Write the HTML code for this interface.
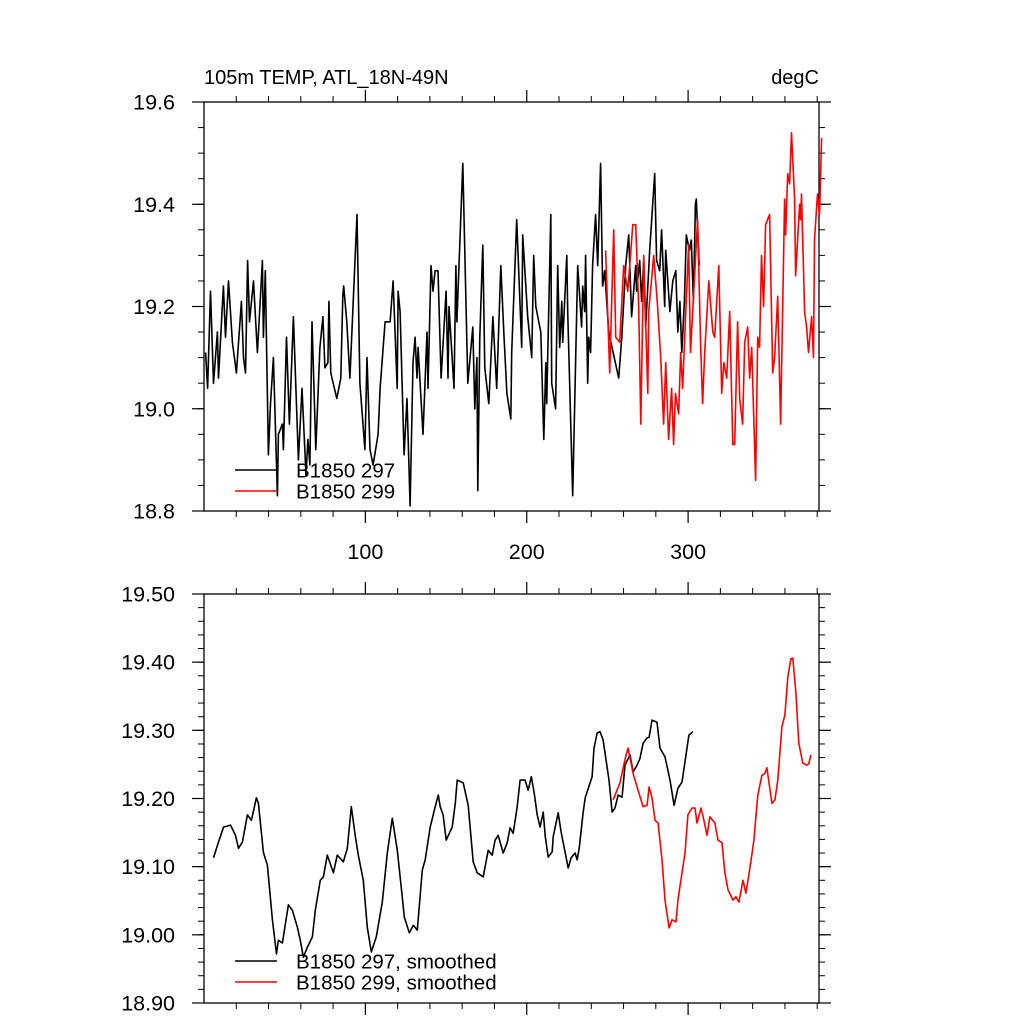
<!DOCTYPE html>
<html><head><meta charset="utf-8"><style>
html,body{margin:0;padding:0;background:#fff;}
svg{display:block;font-family:"Liberation Sans",sans-serif;}
</style></head><body>
<svg id="chart" width="1024" height="1024" viewBox="0 0 1024 1024" xmlns="http://www.w3.org/2000/svg">
<text x="204" y="84" font-size="20">105m TEMP, ATL_18N-49N</text>
<text x="819" y="84" font-size="20" text-anchor="end">degC</text>
<g id="top"></g>
<g id="bot"></g>
</svg>
<script>
// ---- data ----
const xTicks=[100,200,300];
const topYTicks=[18.8,19.0,19.2,19.4,19.6];
const botYTicks=[18.9,19.0,19.1,19.2,19.3,19.4,19.5];
const topYLabels=["18.8","19.0","19.2","19.4","19.6"];
const botYLabels=["18.90","19.00","19.10","19.20","19.30","19.40","19.50"];
const b297Years=[1,2.2,4,5.9,8.3,9,12,13.3,15.2,17.6,20.1,23.2,24.5,25.7,27,28.2,30.7,33.1,36.2,36.8,38,39.9,41.2,43,45.5,46.1,48.6,49.2,51.1,52.9,55.4,58.5,60.7,63.2,64.4,65.6,66.9,69.3,71.8,73.7,74.9,76.8,77.4,78.6,82.3,84.8,86,86.6,88.5,90.4,94.8,96.6,99.7,101,102.9,104.8,107.9,109.1,112.2,115.3,117.2,119.7,120.3,121.5,124,125.8,127.7,129.5,130.8,132,132.7,135.7,138.2,138.8,140.7,141.9,143.2,145,146.9,150,151.2,151.8,154.9,156.1,156.7,160.4,163.5,166.6,167.8,169.1,169.7,170.9,172.8,174,176.5,179,181.4,183.9,185.8,187.7,190.1,190.7,193.8,196.9,197.5,200.6,203.1,204.3,205.6,208.7,210.6,211.8,212.4,214.9,215.5,217.9,219.2,220.4,221.7,222.3,224.8,225.4,228.5,231.6,234,234.7,235.9,236.5,237.8,238.4,239.6,240.8,242.7,244,245.8,247,248.3,250.8,257,258.9,261.3,263.2,265,267.5,268.1,270,271.2,272.5,273.7,276.2,279.3,280.5,282.4,283.6,285.5,286.1,288.7,290.5,292.4,293.6,294.9,296.1,297.7,298.9,300.8,302,303.3,304.5,305.1,306.9];
const b297Values=[19.11,19.04,19.23,19.05,19.15,19.06,19.24,19.14,19.25,19.13,19.07,19.21,19.10,19.07,19.29,19.17,19.25,19.11,19.29,19.14,19.27,18.91,19.01,19.10,18.83,18.95,18.97,18.92,19.14,18.97,19.18,18.90,19.04,18.87,18.94,18.89,19.17,18.92,19.12,19.18,19.08,19.09,19.21,19.07,19.02,19.06,19.22,19.24,19.17,19.06,19.38,19.05,18.92,19.10,18.92,18.89,18.95,19.04,19.17,19.17,19.25,19.04,19.23,19.19,18.91,19.02,18.81,19.09,19.14,19.06,19.12,18.95,19.15,19.04,19.28,19.23,19.27,19.27,19.06,19.23,19.06,19.20,19.04,19.28,19.17,19.48,19.05,19.16,19.00,19.10,18.84,19.14,19.32,19.08,19.01,19.18,19.04,19.28,19.15,19.03,18.98,19.11,19.37,19.12,19.34,19.18,19.10,19.30,19.20,19.15,18.94,19.09,19.01,19.38,19.05,19.00,19.28,19.12,19.21,19.13,19.30,19.19,18.83,19.28,19.16,19.24,19.19,19.30,19.05,19.14,19.11,19.28,19.38,19.28,19.48,19.24,19.27,19.15,19.06,19.14,19.28,19.34,19.18,19.28,19.23,19.29,19.21,19.29,19.16,19.31,19.46,19.29,19.27,19.35,19.20,19.31,19.19,19.25,19.27,19.15,19.21,19.11,19.21,19.34,19.31,19.33,19.21,19.40,19.41,19.28];
const b299Years=[248.9,251.4,253.9,255.1,257.6,260.1,262.6,265.7,267.5,269.4,270.7,272.5,275,275.6,278.7,281.1,283,284.8,286.1,287.9,289.8,291,292.2,294.1,295.4,296.6,300.3,301.5,305.9,307.8,309,310.3,312.8,315.3,316.5,319,320.8,322.1,323.9,325.8,327.7,328.9,330.7,332,333.8,335.1,336.9,338.1,339.4,341.8,343.1,344.3,345.5,346.8,348,350.5,352.4,353.6,355.5,357.3,359.8,360.4,361.7,362.9,364.1,366,366.6,369.1,369.7,370.3,372.2,373.4,374.6,376.5,377.7,378.3,380.2,381.4,382.7];
const b299Values=[19.31,19.07,19.35,19.14,19.13,19.28,19.23,19.36,19.36,19.20,18.97,19.30,19.03,19.19,19.30,19.20,19.10,18.97,19.09,18.94,19.04,18.93,19.03,18.99,19.11,19.04,19.32,19.11,19.37,19.12,19.01,19.11,19.25,19.15,19.14,19.28,19.03,19.09,19.06,19.19,18.93,18.93,19.17,19.02,18.97,19.13,19.16,19.06,19.12,18.86,19.14,19.12,19.30,19.20,19.36,19.38,19.07,19.10,19.22,18.97,19.41,19.34,19.46,19.44,19.54,19.41,19.26,19.40,19.37,19.42,19.19,19.16,19.11,19.18,19.10,19.33,19.42,19.38,19.53];
const s297Years=[5.9,8.4,12.1,16.4,19.5,21.4,23.8,26.9,29.4,32.5,33.7,36.8,39.3,42.4,44.9,46.1,48.6,52.3,54.8,57.9,59.7,61.6,64.1,67.2,69,72.1,74,76.4,80.2,82.6,86.3,88.8,91.3,93.8,95.6,98.7,101.2,103.7,106.8,110.5,113.6,116.7,119.8,122.9,124.1,127.2,129.7,132.2,135.3,137.1,140.2,143.3,145.2,146.4,148.2,150.1,153.8,155.7,156.9,160.6,163.7,166.8,169.3,173,176.1,178.6,180.4,182.3,185.4,187.9,189.7,191.6,194.1,195.9,199,200.9,202.8,204.6,206.5,208.3,210.2,211.5,213.3,215.8,216.4,219.5,221.3,222.6,225.7,227.5,230,231.2,232.5,234.9,236.2,240.5,241.7,243.6,245.4,247.3,249.8,251,252.9,254.7,256.6,259.1,260.9,264,265.9,268.4,270.2,272.1,274.6,275.8,277.6,280.7,282.6,285.7,288.8,291.3,293.7,296.2,299.3,300.5,303];
const s297Values=[19.113,19.132,19.158,19.161,19.146,19.127,19.136,19.176,19.168,19.201,19.193,19.121,19.102,19.022,18.972,18.992,18.988,19.044,19.036,19.011,18.992,18.967,18.982,18.997,19.036,19.080,19.085,19.117,19.091,19.117,19.107,19.127,19.188,19.144,19.117,19.080,19.011,18.975,18.997,19.048,19.120,19.171,19.124,19.055,19.026,19.003,19.014,19.007,19.095,19.110,19.158,19.188,19.205,19.188,19.176,19.139,19.158,19.193,19.227,19.223,19.190,19.107,19.091,19.085,19.124,19.117,19.139,19.146,19.120,19.135,19.157,19.149,19.188,19.227,19.227,19.212,19.232,19.208,19.176,19.158,19.180,19.144,19.114,19.122,19.144,19.179,19.151,19.135,19.098,19.113,19.120,19.110,19.127,19.179,19.201,19.232,19.274,19.296,19.298,19.286,19.246,19.227,19.180,19.186,19.205,19.202,19.249,19.264,19.239,19.249,19.259,19.281,19.289,19.290,19.315,19.312,19.274,19.261,19.227,19.190,19.215,19.224,19.274,19.293,19.298];
const s299Years=[253.5,257.8,261.5,262.8,265.9,269,272.1,274.6,275.8,277.6,279.5,281.4,283.8,285.7,288.2,290,292.5,293.7,296.2,298.1,299.9,302.4,304.3,305.5,308,309.8,311.7,313.5,316.6,318.5,321,322.8,324.7,327.8,329.6,331.5,334,335.8,337.1,339.5,340.8,343.2,345.7,347.6,348.8,351.9,353.8,355.6,358.1,360,361.8,363.7,364.9,366.8,368.6,371.1,373.6,374.8,376.1];
const s299Values=[19.198,19.223,19.264,19.274,19.237,19.212,19.188,19.190,19.217,19.201,19.168,19.164,19.110,19.051,19.010,19.022,19.019,19.051,19.091,19.120,19.176,19.186,19.186,19.164,19.186,19.168,19.146,19.173,19.164,19.139,19.135,19.091,19.066,19.051,19.056,19.048,19.080,19.061,19.080,19.117,19.139,19.205,19.234,19.237,19.245,19.193,19.198,19.227,19.305,19.323,19.378,19.405,19.406,19.355,19.281,19.252,19.249,19.251,19.264];

// ---- drawing ----
const NS="http://www.w3.org/2000/svg";
const L=204,R=819,XMIN=0,XMAX=(819-203.5)/1.615;
function xs(v){return L+(v-XMIN)/(XMAX-XMIN)*(R-L);}
function mk(tag,attrs,parent){const e=document.createElementNS(NS,tag);for(const k in attrs)e.setAttribute(k,attrs[k]);parent.appendChild(e);return e;}
function panel(g,T,B,ymin,ymax,yTicks,yLabels,ymin2,showX,prefix){
  const ys=v=>B-(v-ymin)/(ymax-ymin)*(B-T);
  const n=Math.round((ymax-ymin)/ymin2);
  for(let i=0;i<=n;i++){const v=ymin+i*ymin2;const y=ys(v);
    const l=mk('line',{x1:L-6,x2:L,y1:y,y2:y,stroke:'#000','stroke-width':1},g);
    
    
    const r=mk('line',{x1:R,x2:R+6,y1:y,y2:y,stroke:'#000','stroke-width':1},g);
    
    }
  yTicks.forEach((v,i)=>{const y=ys(v);
    const l=mk('line',{x1:L-12,x2:L,y1:y,y2:y,stroke:'#000','stroke-width':1.2},g);
    
    
    const r=mk('line',{x1:R,x2:R+12,y1:y,y2:y,stroke:'#000','stroke-width':1.2},g);
    
    
    const t=mk('text',{x:175,y:y+7.5,'font-size':21.5,'text-anchor':'end'},g);t.textContent=yLabels[i];
    
    });
  for(let v=20;v<XMAX;v+=20){const x=xs(v);const major=xTicks.indexOf(v)>=0;const len=major?12:6;
    const a=mk('line',{x1:x,x2:x,y1:B,y2:B+len,stroke:'#000','stroke-width':major?1.2:1},g);
    
    
    const b=mk('line',{x1:x,x2:x,y1:T-len,y2:T,stroke:'#000','stroke-width':major?1.2:1},g);
    
    }
  if(showX){xTicks.forEach(v=>{const t=mk('text',{x:xs(v),y:B+48,'font-size':21.5,'text-anchor':'middle'},g);t.textContent=v;
    
    });}
  const f=mk('rect',{x:L,y:T,width:R-L,height:B-T,fill:'none',stroke:'#000','stroke-width':1.3},g);
  
  
  return ys;
}
function series(g,xsArr,vals,ys,color,name){
  const d=xsArr.map((x,i)=>(i?'L':'M')+xs(x).toFixed(1)+' '+ys(vals[i]).toFixed(1)).join(' ');
  const p=mk('path',{d:d,fill:'none',stroke:color,'stroke-width':1.6,'stroke-linejoin':'round'},g);
  
  
}
function legend(g,y,color,label,name){
  const l=mk('line',{x1:235,x2:277,y1:y,y2:y,stroke:color,'stroke-width':1.6},g);
  
  
  const t=mk('text',{x:296,y:y+7.5,'font-size':20.5},g);t.textContent=label;
  
  
}
const gt=document.getElementById('top'),gb=document.getElementById('bot');
const ysT=panel(gt,102,511,18.8,19.6,topYTicks,topYLabels,0.05,true,'top-');
series(gt,b297Years,b297Values,ysT,'#000','series-b1850-297');
series(gt,b299Years,b299Values,ysT,'#f00','series-b1850-299');
legend(gt,470,'#000','B1850 297','legend-b1850-297');
legend(gt,491,'#f00','B1850 299','legend-b1850-299');
const ysB=panel(gb,594,1003,18.9,19.5,botYTicks,botYLabels,0.02,false,'bottom-');
series(gb,s297Years,s297Values,ysB,'#000','series-b1850-297-smoothed');
series(gb,s299Years,s299Values,ysB,'#f00','series-b1850-299-smoothed');
legend(gb,961,'#000','B1850 297, smoothed','legend-b1850-297-smoothed');
legend(gb,982,'#f00','B1850 299, smoothed','legend-b1850-299-smoothed');
</script>
</body></html>
